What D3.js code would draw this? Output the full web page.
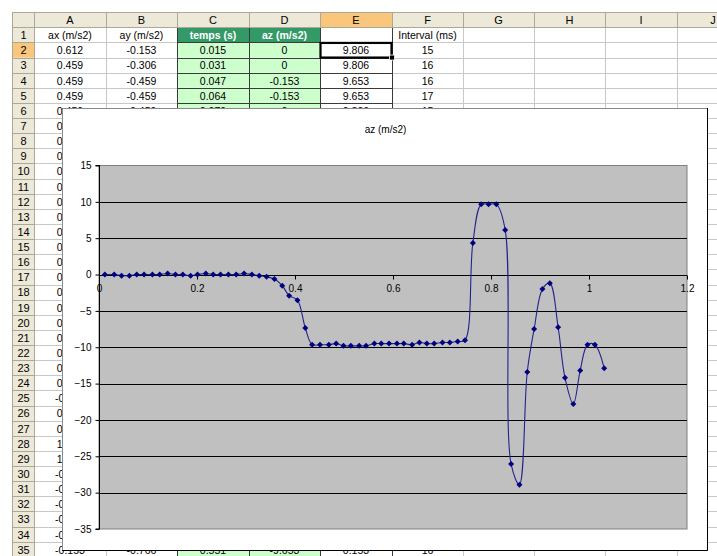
<!DOCTYPE html>
<html><head><meta charset="utf-8">
<script src="https://cdn.jsdelivr.net/npm/d3@7"></script>
<style>
body{margin:0;background:#fff}
svg{display:block}
text{font-family:Arial,"Liberation Sans",sans-serif}
</style>
</head><body>
<svg id="c" width="717" height="556"></svg>
<script>
// ---------- spreadsheet content ----------
const columnLetters = ["A","B","C","D","E","F","G","H","I","J"];
const headerRow = ["ax (m/s2)","ay (m/s2)","temps (s)","az (m/s2)","","Interval (ms)"];
const colA = ["0.612","0.459","0.459","0.459","0.459","0.459","0.459","0.612","0.459","0.459","0.612","0.459","0.459","0.459","0.612","0.459","0.459","0.306","0.459","0.306","0.153","0.306","0.153","-0.153","0.153","0.459","1.379","1.532","-0.919","-0.766","-0.612","-0.459","-0.306","-0.153"]; // rows 2..35
const visibleRows = [2,3,4,5,6,35];
const colB = ["-0.153","-0.306","-0.459","-0.459","-0.459","-0.766"];
const colC = ["0.015","0.031","0.047","0.064","0.079","0.551"];
const colD = ["0","0","-0.153","-0.153","0","-9.653"];
const colE = ["9.806","9.806","9.653","9.653","9.806","0.153"];
const colF = ["15","16","16","17","15","16"];

// ---------- chart data ----------
const chartTitle = "az (m/s2)";
const temps = [0.012,0.031,0.046,0.062,0.077,0.092,0.109,0.124,0.140,0.156,0.171,0.187,0.201,0.218,0.233,0.248,0.264,0.280,0.296,0.312,0.327,0.342,0.358,0.374,0.388,0.405,
  0.421,0.435,0.451,0.469,0.484,0.499,0.514,0.531,0.545,0.562,0.576,0.592,0.608,0.622,0.639,0.654,0.669,0.684,0.701,0.716,0.732,0.747,
  0.763,0.780,0.795,0.811,0.829,0.841,0.858,0.874,0.888,0.905,0.920,0.937,0.951,0.968,0.982,0.997,1.012,1.031];
const azValues = [0,0,-0.153,-0.153,0,0,0,0,0.153,0,0,-0.153,0,0.153,0,0,0,0,0.153,0,-0.153,-0.306,-0.612,-1.532,-2.910,-3.522,
  -7.354,-9.653,-9.653,-9.653,-9.500,-9.806,-9.806,-9.806,-9.806,-9.500,-9.500,-9.500,-9.500,-9.500,-9.653,-9.347,-9.500,-9.500,-9.347,-9.347,-9.194,-9.041,
  4.350,9.653,9.653,9.653,6.130,-26.050,-28.900,-13.400,-7.500,-2.000,-1.200,-7.250,-14.200,-17.800,-13.200,-9.653,-9.653,-12.900];
const xTicks = [0,0.2,0.4,0.6,0.8,1,1.2];
const yTicks = [15,10,5,0,-5,-10,-15,-20,-25,-30,-35];

// ---------- layout ----------
const W = 717, H = 556;
const svg = d3.select("#c");
const colEdges = [12,34,106,177,249,320,392,463,534,605,677,749];
const headTop = 12, headBot = 27.3, rowH = 15.13;
const rowTop = r => headBot + (r-1)*rowH;
const px = v => Math.round(v) + 0.5;
const cellFont = "10.5px";
const ch = {x0:62, y0:108, x1:707, y1:550};

// clip that excludes the embedded chart (cells under it are hidden)
svg.append("defs").append("clipPath").attr("id","outsideChart")
  .append("path").attr("clip-rule","evenodd")
  .attr("d",`M0,0H${W}V${H}H0Z M${ch.x0},${ch.y0}V${ch.y1+1}H${ch.x1+1}V${ch.y0}Z`);

svg.append("rect").attr("width",W).attr("height",H).attr("fill","#fff");

// green cells
for (let r = 1; r <= 35; r++) {
  for (const ci of [2,3]) {
    svg.append("rect").attr("x",colEdges[ci+1]).attr("y",rowTop(r))
      .attr("width",colEdges[ci+2]-colEdges[ci+1]).attr("height",rowH)
      .attr("fill", r === 1 ? "#339966" : "#ccffcc");
  }
}
// cell gridlines
const gl = svg.append("g").attr("stroke","#c8c8c8").attr("stroke-width",1);
for (let r = 1; r <= 36; r++) {
  gl.append("line").attr("x1",34).attr("x2",W).attr("y1",px(rowTop(r))).attr("y2",px(rowTop(r)));
}
for (let i = 2; i < colEdges.length; i++) {
  gl.append("line").attr("x1",px(colEdges[i])).attr("x2",px(colEdges[i])).attr("y1",headBot).attr("y2",H);
}
// dark borders for C..E
const db = svg.append("g").attr("stroke","#3a3a3a").attr("stroke-width",1);
for (let r = 1; r <= 36; r++) {
  db.append("line").attr("x1",colEdges[3]).attr("x2",colEdges[6]+1).attr("y1",px(rowTop(r))).attr("y2",px(rowTop(r)));
}
for (const i of [3,4,5,6]) {
  db.append("line").attr("x1",px(colEdges[i])).attr("x2",px(colEdges[i])).attr("y1",headBot).attr("y2",H);
}

// column headers
svg.append("rect").attr("x",headTop).attr("y",headTop).attr("width",W-headTop).attr("height",headBot-headTop).attr("fill","#ece9d8");
svg.append("rect").attr("x",colEdges[5]).attr("y",headTop).attr("width",colEdges[6]-colEdges[5]).attr("height",headBot-headTop).attr("fill","#f9c67c");
svg.append("rect").attr("x",headTop).attr("y",headBot).attr("width",colEdges[1]-headTop).attr("height",H-headBot).attr("fill","#ece9d8");
svg.append("rect").attr("x",headTop).attr("y",rowTop(2)).attr("width",colEdges[1]-headTop).attr("height",rowH).attr("fill","#f9c67c");
const hb = svg.append("g").attr("stroke","#aca899").attr("stroke-width",1);
hb.append("line").attr("x1",headTop).attr("x2",W).attr("y1",px(headTop)).attr("y2",px(headTop));
hb.append("line").attr("x1",headTop).attr("x2",W).attr("y1",px(headBot)).attr("y2",px(headBot));
hb.append("line").attr("x1",px(headTop)).attr("x2",px(headTop)).attr("y1",headTop).attr("y2",H);
for (let i = 1; i < colEdges.length; i++) {
  hb.append("line").attr("x1",px(colEdges[i])).attr("x2",px(colEdges[i])).attr("y1",headTop).attr("y2",headBot);
}
hb.append("line").attr("x1",px(colEdges[1])).attr("x2",px(colEdges[1])).attr("y1",headTop).attr("y2",H);
for (let r = 1; r <= 36; r++) {
  hb.append("line").attr("x1",headTop).attr("x2",colEdges[1]).attr("y1",px(rowTop(r))).attr("y2",px(rowTop(r)));
}
columnLetters.forEach((l,i) => {
  svg.append("text").attr("x",(colEdges[i+1]+colEdges[i+2])/2).attr("y",headBot-3.5)
    .attr("text-anchor","middle").attr("font-size","11px").attr("fill","#000").text(l);
});
for (let r = 1; r <= 35; r++) {
  svg.append("text").attr("x",23.5).attr("y",rowTop(r)+rowH-3.2)
    .attr("text-anchor","middle").attr("font-size","11px").attr("fill","#000").text(r);
}

// cell texts
const cells = svg.append("g").attr("clip-path","url(#outsideChart)");
function cellText(ci, r, s, opts={}) {
  const t = cells.append("text").attr("x",(colEdges[ci+1]+colEdges[ci+2])/2).attr("y",rowTop(r)+rowH-3.2)
    .attr("text-anchor","middle").attr("font-size",cellFont)
    .attr("font-weight",opts.bold?"bold":"normal").attr("fill",opts.fill||"#000").text(s);
  if (opts.visibleChars) {
    // only the leading characters left of the chart show: keep those, at the same place
    const full = t.node().getComputedTextLength();
    t.attr("text-anchor","start").attr("x",(colEdges[ci+1]+colEdges[ci+2])/2 - full/2)
     .text(s.slice(0, opts.visibleChars));
  }
}
headerRow.forEach((s,i) => { if (s) cellText(i,1,s,(i===2||i===3)?{bold:true,fill:"#fff"}:{}); });
colA.forEach((s,i) => {
  const r = i + 2;
  const underChart = r >= 7 && r <= 34;
  cellText(0, r, s, underChart ? {visibleChars: s[0] === "-" ? 2 : 1} : {});
});
visibleRows.forEach((r,i) => {
  cellText(1,r,colB[i]); cellText(2,r,colC[i]); cellText(3,r,colD[i]);
  cellText(4,r,colE[i]); cellText(5,r,colF[i]);
});
// selected cell E2
svg.append("rect").attr("x",colEdges[5]+0.5).attr("y",rowTop(2)+0.5).attr("width",colEdges[6]-colEdges[5]-1).attr("height",rowH-0.5)
  .attr("fill","none").attr("stroke","#000").attr("stroke-width",2.2);
svg.append("rect").attr("x",colEdges[6]-2.5).attr("y",rowTop(3)-2.5).attr("width",5).attr("height",5).attr("fill","#000").attr("stroke","#fff").attr("stroke-width",0.8);

// ---------- chart ----------
const chart = svg.append("g");
chart.append("rect").attr("x",ch.x0+0.5).attr("y",ch.y0+0.5).attr("width",ch.x1-ch.x0).attr("height",ch.y1-ch.y0)
  .attr("fill","#fff").attr("stroke","#8a8a8a");
chart.append("path").attr("d",`M${ch.x1+0.5},${ch.y0} V${ch.y1+0.5} H${ch.x0}`).attr("fill","none").attr("stroke","#000");

chart.append("text").attr("x",(ch.x0+ch.x1)/2+1).attr("y",133).attr("text-anchor","middle")
  .attr("font-size","10px").attr("fill","#000").text(chartTitle);

const pa = {l:99, r:687, t:165.5, b:529};
const x = d3.scaleLinear().domain([0,1.2]).range([pa.l,pa.r]);
const y = d3.scaleLinear().domain([-35,15]).range([pa.b,pa.t]);

chart.append("rect").attr("x",pa.l).attr("y",pa.t).attr("width",pa.r-pa.l).attr("height",pa.b-pa.t)
  .attr("fill","#c0c0c0").attr("stroke","#808080").attr("stroke-width",1);
// gridlines
chart.append("g").selectAll("line").data(yTicks.filter(v => v !== 15 && v !== -35)).join("line")
  .attr("x1",pa.l).attr("x2",pa.r).attr("y1",d => Math.round(y(d))+0.5).attr("y2",d => Math.round(y(d))+0.5)
  .attr("stroke","#000").attr("stroke-width",1);

// y axis
const yAxis = chart.append("g").attr("transform",`translate(${pa.l+0.5},0)`)
  .call(d3.axisLeft(y).tickValues(yTicks).tickSize(4).tickPadding(4).tickFormat(d3.format("d")));
yAxis.select(".domain").attr("stroke","#000").attr("d",`M-4,${pa.t}H0V${pa.b}H-4`);
yAxis.selectAll(".tick line").attr("stroke","#000");
yAxis.selectAll("text").attr("font-size","10px").attr("font-family","Arial,'Liberation Sans',sans-serif").attr("fill","#000");

// x axis at y=0
const xAxis = chart.append("g").attr("transform",`translate(0,${Math.round(y(0))+0.5})`)
  .call(d3.axisBottom(x).tickValues(xTicks).tickSize(4).tickPadding(5).tickFormat(d => d3.format("")(+d.toFixed(1))));
xAxis.select(".domain").attr("stroke","#000").attr("d",`M${pa.l},0H${pa.r}`);
xAxis.selectAll(".tick line").attr("stroke","#000");
xAxis.selectAll("text").attr("font-size","10px").attr("font-family","Arial,'Liberation Sans',sans-serif").attr("fill","#000");

// series
const pts = temps.map((t,i) => [t, azValues[i]]);
chart.append("path").datum(pts)
  .attr("d", d3.line().x(d => x(d[0])).y(d => y(d[1])).curve(d3.curveCatmullRom.alpha(0.5)))
  .attr("fill","none").attr("stroke","#23238e").attr("stroke-width",1.1);
chart.append("g").selectAll("path").data(pts).join("path")
  .attr("transform", d => `translate(${x(d[0])},${y(d[1])})`)
  .attr("d","M0,-3L3,0L0,3L-3,0Z").attr("fill","#000080");

// y axis line on top of plot left edge
chart.append("line").attr("x1",pa.l+0.5).attr("x2",pa.l+0.5).attr("y1",pa.t).attr("y2",pa.b).attr("stroke","#000");
</script>
</body></html>
